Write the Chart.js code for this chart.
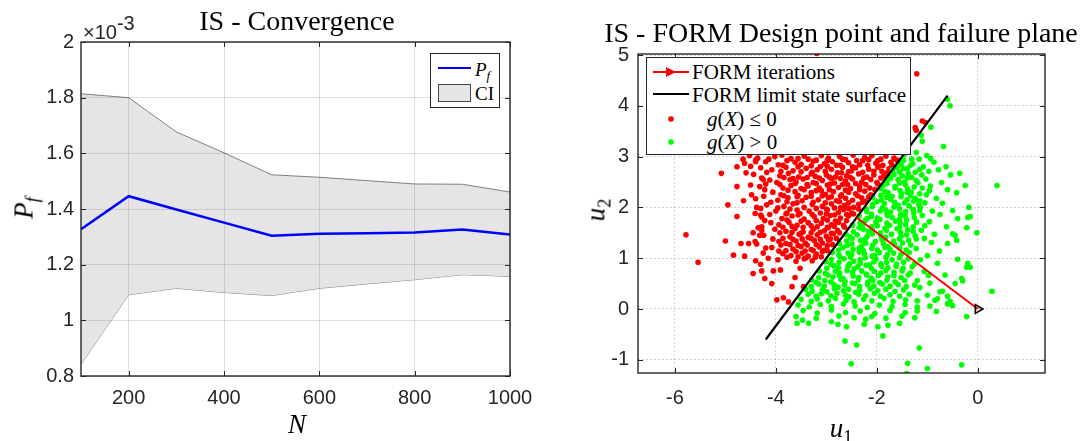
<!DOCTYPE html>
<html>
<head>
<meta charset="utf-8">
<title>IS - Convergence / FORM design point</title>
<script src="https://cdn.jsdelivr.net/npm/chart.js@4.4.1/dist/chart.umd.min.js"></script>
<style>
  body { margin: 0; width: 1088px; height: 441px; position: relative; overflow: hidden; background: #fff; }
  canvas { position: absolute; top: 0; }
  #convChart { left: 0; }
  #formChart { left: 560px; }
  .txt { position: absolute; white-space: nowrap; font-family: "Liberation Serif", "DejaVu Serif", serif; color: #000; transform: translate(-50%, -50%); line-height: 1; }
  .title { font-size: 28px; }
  .axt { font-size: 27px; }
  .rot { transform: translate(-50%, -50%) rotate(-90deg); }
  .sb { font-size: 68%; position: relative; top: 0.32em; }
  .exp { position: absolute; left: 83px; top: 13px; font-family: "Liberation Sans", Arial, sans-serif; font-size: 20px; color: #262626; line-height: 1; white-space: nowrap; }
  .exp sup { font-size: 20px; vertical-align: 0.45em; }
  .legend { position: absolute; background: #fff; border: 1.2px solid #262626; box-sizing: border-box; }
  .legend .item { position: absolute; white-space: nowrap; font-family: "Liberation Serif", "DejaVu Serif", serif; color: #000; transform: translateY(-50%); line-height: 1; }
  .legend .sample { position: absolute; }
</style>
</head>
<body>
<canvas id="convChart" width="560" height="441"></canvas>
<canvas id="formChart" width="528" height="441"></canvas>

<!-- titles and axis labels -->
<div class="txt title" style="left:297px;top:21px;">IS - Convergence</div>
<div class="exp">&times;10<sup>-3</sup></div>
<div class="txt axt rot" style="left:24px;top:208px;"><i>P</i><span class="sb"><i>f</i></span></div>
<div class="txt axt" style="left:297px;top:424px;"><i>N</i></div>

<div class="txt title" style="left:841px;top:33px;">IS - FORM Design point and failure plane</div>
<div class="txt axt" style="left:841px;top:428px;"><i>u</i><span class="sb">1</span></div>
<div class="txt axt rot" style="left:596px;top:210px;"><i>u</i><span class="sb">2</span></div>

<!-- legend, left chart -->
<div class="legend" style="left:430px;top:53px;width:70px;height:55px;">
  <div class="sample" style="left:7px;top:13px;width:33px;border-top:2.5px solid #0000ff;"></div>
  <div class="sample" style="left:7px;top:30px;width:33px;height:18px;background:#e6e6e6;border:1px solid #444;box-sizing:border-box;"></div>
  <div class="item" style="left:44px;top:15px;font-size:19px;"><i>P</i><span class="sb"><i>f</i></span></div>
  <div class="item" style="left:44px;top:39px;font-size:19px;">CI</div>
</div>

<!-- legend, right chart -->
<div class="legend" style="left:646px;top:57px;width:265px;height:98px;">
  <svg class="sample" style="left:6px;top:6px;" width="36" height="16">
    <line x1="0" y1="8" x2="36" y2="8" stroke="#ff0000" stroke-width="2"/>
    <polygon points="13,3 23,8 13,13" fill="#ff0000"/>
  </svg>
  <div class="sample" style="left:6px;top:35px;width:36px;border-top:2.5px solid #000;"></div>
  <svg class="sample" style="left:18px;top:55px;" width="12" height="12"><circle cx="6" cy="6" r="2.8" fill="#ff0000"/></svg>
  <svg class="sample" style="left:18px;top:78px;" width="12" height="12"><circle cx="6" cy="6" r="2.8" fill="#00ff00"/></svg>
  <div class="item" style="left:45px;top:14px;font-size:21px;">FORM iterations</div>
  <div class="item" style="left:45px;top:37px;font-size:21px;">FORM limit state surface</div>
  <div class="item" style="left:60px;top:61px;font-size:21px;"><i>g</i>(<i>X</i>) &le; 0</div>
  <div class="item" style="left:60px;top:84px;font-size:21px;"><i>g</i>(<i>X</i>) &gt; 0</div>
</div>

<script>
// ---- left chart: IS convergence, Pf and CI in units of 1e-3 ----
var nSamples = [100, 200, 300, 400, 500, 600, 700, 800, 900, 1000];
var pfValues = [1.327, 1.446, 1.398, 1.351, 1.304, 1.311, 1.313, 1.316, 1.326, 1.308];
var ciUpper  = [1.814, 1.800, 1.677, 1.602, 1.523, 1.514, 1.502, 1.490, 1.489, 1.461];
var ciLower  = [0.842, 1.092, 1.115, 1.100, 1.089, 1.115, 1.131, 1.146, 1.164, 1.158];
var nTicks  = [200, 400, 600, 800, 1000];
var pfTicks = [0.8, 1, 1.2, 1.4, 1.6, 1.8, 2];

// ---- right chart: FORM design point ----
var u1Ticks = [-6, -4, -2, 0];
var u2Ticks = [-1, 0, 1, 2, 3, 4, 5];
var formIterU1 = [0, -2.4];
var formIterU2 = [0, 1.8];
var limitU1 = [-4.2, -0.6];
var limitU2 = [-0.6, 4.2];

// samples with g(X) <= 0  [u1, u2]
var failPoints = [
  [-4.52,3.02],[-4.36,2.97],[-4.02,3.0],[-3.88,3.03],[-3.7,2.96],[-3.44,3.01],[-3.36,2.95],[-3.1,3.02],[-2.96,2.97],[-2.74,3.0],[-2.62,2.94],[-2.47,3.03],[-2.24,2.98],[-2.1,3.02],[-1.92,2.95],[-1.82,3.01],[-1.66,2.97],
  [-4.62,2.87],[-4.2,2.9],[-3.95,2.84],[-3.62,2.89],[-3.5,2.85],[-3.26,2.91],[-3.04,2.86],[-2.88,2.9],[-2.8,2.83],[-2.56,2.88],[-2.34,2.84],[-2.28,2.92],[-2.02,2.87],[-1.88,2.83],[-1.72,2.89],
  [-4.3,2.78],[-4.08,2.74],[-3.8,2.79],[-3.66,2.72],[-3.4,2.77],[-3.18,2.74],[-3.12,2.8],[-2.9,2.75],[-2.68,2.79],[-2.5,2.72],[-2.42,2.78],[-2.16,2.75],[-1.98,2.79],[-1.9,2.71],[-1.76,2.76],
  [-4.44,2.65],[-3.92,2.62],[-3.75,2.67],[-3.55,2.6],[-3.3,2.66],[-3.22,2.61],[-3.0,2.64],[-2.82,2.6],[-2.7,2.68],[-2.6,2.62],[-2.36,2.66],[-2.2,2.6],[-2.06,2.64],[-1.86,2.62],
  [-4.12,2.54],[-3.98,2.49],[-3.72,2.55],[-3.6,2.5],[-3.46,2.56],[-3.26,2.49],[-3.08,2.53],[-2.9,2.57],[-2.84,2.48],[-2.62,2.52],[-2.48,2.56],[-2.3,2.5],[-2.12,2.55],[-2.0,2.49],
  [-4.32,2.41],[-3.86,2.38],[-3.7,2.43],[-3.5,2.37],[-3.36,2.42],[-3.14,2.38],[-2.98,2.44],[-2.76,2.39],[-2.68,2.45],[-2.52,2.37],[-2.34,2.42],[-2.14,2.38],
  [-4.06,2.3],[-3.9,2.25],[-3.62,2.31],[-3.56,2.24],[-3.3,2.29],[-3.2,2.33],[-3.02,2.26],[-2.86,2.31],[-2.7,2.25],[-2.56,2.3],[-2.42,2.27],[-2.24,2.32],[-2.12,2.25],
  [-4.4,2.17],[-3.96,2.14],[-3.76,2.19],[-3.48,2.13],[-3.4,2.2],[-3.16,2.15],[-2.96,2.19],[-2.8,2.13],[-2.62,2.18],[-2.48,2.14],[-2.3,2.19],[-2.22,2.12],
  [-4.18,2.05],[-3.84,2.02],[-3.66,2.07],[-3.44,2.0],[-3.28,2.06],[-3.08,2.02],[-2.9,2.07],[-2.84,1.99],[-2.64,2.04],[-2.46,2.0],[-2.36,2.06],
  [-4.0,1.93],[-3.78,1.89],[-3.58,1.95],[-3.52,1.88],[-3.34,1.93],[-3.12,1.89],[-2.98,1.95],[-2.76,1.9],[-2.66,1.96],[-2.5,1.89],
  [-4.28,1.81],[-3.88,1.78],[-3.68,1.83],[-3.44,1.77],[-3.24,1.82],[-3.06,1.78],[-2.92,1.84],[-2.72,1.79],[-2.56,1.83],
  [-4.1,1.7],[-3.94,1.66],[-3.74,1.71],[-3.58,1.65],[-3.36,1.7],[-3.3,1.64],[-3.1,1.69],[-2.9,1.66],[-2.76,1.71],[-2.66,1.65],
  [-4.02,1.57],[-3.8,1.53],[-3.62,1.58],[-3.46,1.52],[-3.26,1.57],[-3.04,1.54],[-2.96,1.6],[-2.78,1.55],
  [-4.24,1.45],[-3.72,1.42],[-3.54,1.47],[-3.36,1.41],[-3.18,1.46],[-3.0,1.43],[-2.86,1.48],
  [-3.94,1.33],[-3.8,1.29],[-3.6,1.34],[-3.42,1.3],[-3.24,1.35],[-3.08,1.3],[-2.96,1.36],
  [-4.08,1.21],[-3.66,1.18],[-3.5,1.23],[-3.3,1.17],[-3.14,1.22],[-3.04,1.16],
  [-3.86,1.09],[-3.7,1.05],[-3.48,1.1],[-3.36,1.04],[-3.2,1.08],
  [-3.96,0.97],[-3.6,0.94],[-3.44,0.99],[-3.28,0.95],
  [-4.4,2.93],[-4.14,2.95],[-3.78,2.92],[-3.56,2.96],[-3.2,2.93],[-2.98,2.92],[-2.68,2.95],[-2.4,2.92],[-2.16,2.94],[-1.98,2.92],[-1.6,2.93],
  [-4.5,2.81],[-3.86,2.83],[-3.56,2.8],[-3.3,2.82],[-2.98,2.81],[-2.72,2.83],[-2.48,2.8],[-2.18,2.83],[-1.96,2.81],[-1.7,2.83],
  [-4.18,2.69],[-3.9,2.71],[-3.5,2.7],[-3.28,2.69],[-3.02,2.71],[-2.78,2.68],[-2.56,2.7],[-2.28,2.69],[-2.06,2.71],[-1.8,2.68],
  [-4.28,2.58],[-3.84,2.59],[-3.66,2.57],[-3.38,2.59],[-3.14,2.58],[-2.94,2.6],[-2.72,2.57],[-2.52,2.59],[-2.26,2.58],[-1.92,2.58],
  [-4.2,2.46],[-3.92,2.45],[-3.62,2.47],[-3.38,2.45],[-3.2,2.47],[-2.92,2.46],[-2.58,2.45],[-2.42,2.47],[-2.22,2.45],[-1.98,2.46],
  [-4.22,2.35],[-3.76,2.34],[-3.44,2.35],[-3.1,2.33],[-2.94,2.35],[-2.62,2.34],[-2.34,2.35],[-2.04,2.35],
  [-4.24,2.22],[-3.84,2.23],[-3.58,2.21],[-3.3,2.22],[-3.08,2.23],[-2.9,2.21],[-2.72,2.22],[-2.38,2.23],[-2.16,2.21],
  [-4.1,2.1],[-3.78,2.11],[-3.58,2.09],[-3.26,2.1],[-3.02,2.09],[-2.74,2.11],[-2.56,2.09],[-2.28,2.1],
  [-4.3,1.98],[-3.96,1.99],[-3.72,1.97],[-3.2,1.98],[-3.0,1.97],[-2.72,1.99],[-2.56,1.98],[-2.36,1.97],
  [-4.12,1.86],[-3.8,1.87],[-3.56,1.85],[-3.28,1.86],[-3.0,1.87],[-2.84,1.85],[-2.6,1.86],[-2.46,1.87],
  [-4.22,1.74],[-3.78,1.75],[-3.5,1.73],[-3.2,1.74],[-2.98,1.75],[-2.82,1.73],[-2.6,1.74],
  [-4.28,1.62],[-3.86,1.61],[-3.68,1.63],[-3.46,1.61],[-3.18,1.62],[-2.98,1.61],[-2.84,1.63],[-2.64,1.61],
  [-3.92,1.5],[-3.68,1.51],[-3.5,1.49],[-3.3,1.5],[-3.12,1.51],[-2.9,1.49],[-2.74,1.5],
  [-4.06,1.38],[-3.86,1.39],[-3.66,1.37],[-3.48,1.38],[-3.3,1.39],[-3.12,1.37],[-2.92,1.38],[-2.8,1.39],
  [-3.9,1.26],[-3.72,1.27],[-3.56,1.25],[-3.38,1.26],[-3.2,1.27],[-2.98,1.25],[-2.88,1.27],
  [-3.94,1.14],[-3.8,1.15],[-3.6,1.13],[-3.42,1.14],[-3.26,1.15],[-3.08,1.13],[-2.98,1.15],
  [-3.78,1.02],[-3.56,1.03],[-3.4,1.01],[-3.22,1.02],[-3.1,1.03],
  [-4.08,0.5],[-4.05,0.75],[-3.91,0.77],[-3.98,0.18],[-3.85,0.22],[-3.75,0.14],[-3.68,0.44],[-3.52,0.8],[-3.45,0.44],[-4.3,0.88],[-4.22,0.6],[-3.62,0.62],
  [-5.08,2.67],[-4.77,2.8],[-4.77,2.41],[-4.65,2.95],[-4.59,2.68],[-4.5,2.44],[-4.95,2.05],[-4.64,2.13],[-4.77,1.82],[-4.41,1.88],
  [-5.78,1.46],[-5.0,1.34],[-5.54,0.92],[-4.84,1.06],[-4.69,1.29],[-4.62,1.04],[-4.54,1.29],[-4.41,1.33],[-4.38,1.28],[-4.3,1.85],
  [-4.35,1.6],[-4.28,1.55],[-4.45,1.5],[-4.32,1.45],[-4.2,1.2],[-4.25,1.1],[-4.4,0.95],[-4.28,0.75],[-4.45,0.7],[-4.15,1.0],
  [-4.48,2.25],[-4.38,2.0],[-4.25,2.55],[-4.4,2.9],
  [-1.21,4.63],[-1.1,3.7],[-1.04,3.67],[-1.24,3.57],[-1.22,3.52],[-3.19,5.03]
];

// samples with g(X) > 0  [u1, u2]
var safePoints = [
  [-1.46,3.04],[-1.31,2.95],[-1.22,3.08],[-1.01,3.02],[-0.93,2.96],
  [-1.53,2.88],[-1.47,2.93],[-1.29,2.86],[-1.16,2.95],[-0.87,2.89],
  [-1.6,2.79],[-1.52,2.84],[-1.39,2.77],[-1.33,2.83],[-1.08,2.8],[-0.63,2.8],
  [-1.69,2.74],[-1.55,2.7],[-1.47,2.76],[-1.24,2.69],[-1.15,2.75],[-0.97,2.71],[-0.78,2.74],
  [-1.74,2.6],[-1.66,2.65],[-1.5,2.62],[-1.38,2.67],[-1.31,2.59],[-1.11,2.64],[-0.54,2.64],[-0.36,2.67],
  [-1.81,2.52],[-1.73,2.57],[-1.58,2.55],[-1.45,2.5],[-1.4,2.58],[-1.22,2.53],[-1.03,2.56],[-0.72,2.49],
  [-1.88,2.43],[-1.8,2.47],[-1.64,2.41],[-1.55,2.48],[-1.43,2.44],[-1.26,2.4],[-1.19,2.49],[-0.94,2.42],[-0.25,2.43],
  [-1.93,2.37],[-1.84,2.31],[-1.64,2.38],[-1.54,2.33],[-1.39,2.36],[-1.32,2.3],[-1.1,2.38],[-0.96,2.33],[-0.6,2.35],
  [-1.92,2.24],[-1.78,2.29],[-1.7,2.22],[-1.51,2.27],[-1.4,2.3],[-1.33,2.23],[-1.15,2.27],[-1.02,2.25],[-0.42,2.29],
  [-2.08,2.19],[-1.91,2.14],[-1.81,2.2],[-1.73,2.16],[-1.52,2.21],[-1.4,2.15],[-1.24,2.18],[-1.15,2.13],[-0.82,2.18],
  [-2.08,2.06],[-2.0,2.11],[-1.85,2.07],[-1.65,2.1],[-1.58,2.04],[-1.45,2.09],[-1.27,2.12],[-1.17,2.05],[-1.05,2.09],[-0.7,2.08],
  [-2.21,1.97],[-2.09,2.02],[-1.89,1.99],[-1.82,1.95],[-1.66,2.01],[-1.55,1.97],[-1.36,2.03],[-1.28,1.96],[-1.14,2.0],[-0.18,2.0],
  [-2.2,1.92],[-2.11,1.87],[-1.93,1.93],[-1.8,1.88],[-1.73,1.91],[-1.53,1.86],[-1.43,1.92],[-1.27,1.89],[-1.15,1.94],[-0.9,1.93],[-0.5,1.94],
  [-2.35,1.83],[-2.19,1.78],[-2.11,1.82],[-1.99,1.79],[-1.79,1.84],[-1.7,1.8],[-1.55,1.77],[-1.44,1.83],[-1.26,1.8],[-1.1,1.84],[-0.75,1.86],
  [-2.33,1.7],[-2.23,1.74],[-2.02,1.71],[-1.94,1.76],[-1.8,1.69],[-1.63,1.73],[-1.54,1.7],[-1.41,1.75],[-1.21,1.71],[-0.96,1.72],[-0.4,1.78],[-0.2,1.8],
  [-2.48,1.65],[-2.35,1.6],[-2.28,1.66],[-2.1,1.62],[-1.99,1.64],[-1.84,1.59],[-1.75,1.65],[-1.55,1.61],[-1.43,1.66],[-1.28,1.62],[-1.05,1.64],[-0.62,1.62],
  [-2.46,1.52],[-2.27,1.57],[-2.17,1.53],[-2.09,1.56],[-1.93,1.5],[-1.81,1.55],[-1.6,1.58],[-1.53,1.51],[-1.39,1.56],[-1.28,1.53],[-1.12,1.55],[-0.02,1.5],
  [-2.61,1.47],[-2.53,1.42],[-2.39,1.46],[-2.19,1.43],[-2.09,1.48],[-1.92,1.44],[-1.83,1.41],[-1.71,1.47],[-1.52,1.43],[-1.41,1.46],[-1.24,1.44],[-0.86,1.47],[-0.45,1.45],
  [-2.6,1.34],[-2.49,1.39],[-2.32,1.35],[-2.23,1.38],[-2.03,1.33],[-1.9,1.37],[-1.83,1.4],[-1.67,1.34],[-1.55,1.38],[-1.37,1.35],[-1.22,1.38],[-1.06,1.39],
  [-2.74,1.29],[-2.59,1.25],[-2.49,1.28],[-2.3,1.24],[-2.22,1.3],[-2.08,1.26],[-1.87,1.29],[-1.78,1.23],[-1.65,1.27],[-1.49,1.3],[-1.33,1.26],[-0.92,1.31],[-0.6,1.29],
  [-2.76,1.16],[-2.67,1.21],[-2.47,1.17],[-2.35,1.2],[-2.27,1.15],[-2.1,1.19],[-1.99,1.16],[-1.84,1.21],[-1.74,1.17],[-1.55,1.2],[-1.42,1.16],[-1.22,1.19],[-0.76,1.14],
  [-2.88,1.11],[-2.75,1.06],[-2.57,1.1],[-2.5,1.07],[-2.35,1.12],[-2.24,1.08],[-2.04,1.05],[-1.95,1.11],[-1.79,1.07],[-1.67,1.1],[-1.52,1.08],[-1.36,1.11],[-1.0,1.05],
  [-2.9,0.98],[-2.73,1.03],[-2.65,0.99],[-2.52,1.02],[-2.33,0.97],[-2.23,1.01],[-2.09,1.04],[-2.02,0.98],[-1.82,1.02],[-1.7,0.97],[-1.55,1.01],[-1.38,0.99],[-1.14,0.97],[-0.4,0.98],
  [-3.01,0.93],[-2.91,0.88],[-2.75,0.92],[-2.54,0.89],[-2.46,0.94],[-2.33,0.9],[-2.15,0.87],[-2.06,0.93],[-1.92,0.89],[-1.81,0.92],[-1.61,0.88],[-1.47,0.92],[-1.25,0.89],[-0.8,0.9],
  [-2.99,0.8],[-2.85,0.85],[-2.76,0.81],[-2.57,0.84],[-2.45,0.79],[-2.38,0.83],[-2.21,0.86],[-2.11,0.8],[-1.91,0.84],[-1.78,0.81],[-1.62,0.84],[-1.48,0.8],[-1.3,0.83],[-0.22,0.82],
  [-3.14,0.75],[-3.02,0.7],[-2.82,0.74],[-2.74,0.71],[-2.59,0.76],[-2.48,0.72],[-2.3,0.75],[-2.21,0.69],[-2.05,0.74],[-1.92,0.71],[-1.82,0.76],[-1.66,0.72],[-1.5,0.75],[-1.34,0.71],[-1.06,0.74],
  [-3.15,0.62],[-2.97,0.67],[-2.87,0.63],[-2.74,0.66],[-2.67,0.6],[-2.47,0.65],[-2.36,0.62],[-2.2,0.67],[-2.11,0.61],[-1.97,0.66],[-1.78,0.63],[-1.66,0.66],[-1.52,0.62],[-1.38,0.67],[-0.98,0.66],[-0.65,0.67],
  [-3.29,0.57],[-3.2,0.52],[-3.03,0.56],[-2.91,0.53],[-2.71,0.58],[-2.63,0.54],[-2.48,0.51],[-2.37,0.57],[-2.18,0.53],[-2.08,0.56],[-1.94,0.52],[-1.8,0.57],[-1.64,0.53],[-1.45,0.56],[-1.2,0.56],
  [-3.3,0.44],[-3.15,0.49],[-3.04,0.45],[-2.85,0.48],[-2.77,0.43],[-2.64,0.47],[-2.44,0.5],[-2.34,0.44],[-2.18,0.48],[-2.06,0.45],[-1.89,0.49],[-1.74,0.45],[-1.58,0.48],[-1.42,0.44],[-1.25,0.47],[-0.95,0.51],
  [-3.41,0.39],[-3.28,0.35],[-3.08,0.38],[-2.99,0.34],[-2.84,0.4],[-2.66,0.36],[-2.56,0.39],[-2.42,0.33],[-2.34,0.37],[-2.13,0.4],[-1.98,0.36],[-1.82,0.39],[-1.64,0.35],[-1.47,0.38],[-1.15,0.42],[-0.75,0.34],
  [-3.36,0.29],[-3.2,0.25],[-3.1,0.3],[-2.91,0.26],[-2.79,0.31],[-2.62,0.27],[-2.55,0.24],[-2.36,0.29],[-2.22,0.26],[-2.05,0.31],[-1.93,0.25],[-1.74,0.28],[-1.55,0.25],[-1.36,0.29],[-1.0,0.27],[-0.6,0.25],
  [-3.5,0.19],[-3.3,0.15],[-3.18,0.2],[-2.96,0.16],[-2.82,0.21],[-2.61,0.17],[-2.45,0.14],[-2.26,0.19],[-2.1,0.16],[-1.86,0.21],[-1.68,0.15],[-1.43,0.18],[-1.2,0.16],[-0.85,0.17],[-0.55,0.15],
  [-3.56,0.08],[-3.34,0.04],[-3.12,0.09],[-2.9,0.05],[-2.66,0.1],[-2.43,0.06],[-2.19,0.03],[-1.95,0.08],[-1.7,0.05],[-1.44,0.09],[-1.2,0.04],[-0.95,0.06],[-0.5,0.07],
  [-3.46,-0.03],[-3.18,-0.08],[-2.9,-0.02],[-2.62,-0.07],[-2.33,-0.04],[-2.04,-0.09],[-1.74,-0.03],[-1.44,-0.07],[-1.2,-0.04],[-0.82,-0.05],
  [-3.6,-0.15],[-3.2,-0.18],[-2.75,-0.14],[-2.45,-0.17],[-2.1,-0.15],[-1.82,-0.18],[-1.5,-0.14],[-1.25,-0.17],[-0.22,-0.15],
  [-3.35,-0.28],[-3.47,-0.22],[-3.58,-0.28],[-2.63,-0.63],[-2.4,-0.71],[-1.88,-0.53],[-2.51,-1.08],[-1.39,-1.07],[-1.41,-1.27],[-1.16,-0.77],
  [-1.0,-1.17],[-0.32,-1.1],[-2.22,-0.2],[-2.25,-0.3],[-2.6,-0.35],[-2.77,-0.3],[-1.98,-0.35],[-1.78,-0.32],[-1.55,-0.28],[-2.9,-0.25],
  [-0.6,4.13],[-0.55,4.0],[-0.93,3.58],[-0.68,3.2],[-1.1,3.3],[-1.12,3.42],[0.38,2.43],[-0.15,1.82],[-0.22,1.6],
  [-0.5,1.48],[-0.42,1.35],[-0.2,0.9],[-0.15,0.82],[0.28,0.35],[-0.32,0.6],[-0.45,0.5],[-0.6,0.1],[-0.8,0.2],
  [-0.7,0.35],[-0.3,0.55]
];

function toXY(xs, ys) {
    var out = [];
    for (var i = 0; i < xs.length; i++) out.push({x: xs[i], y: ys[i]});
    return out;
}
function pairsToXY(pairs) {
    return pairs.map(function(p) { return {x: p[0], y: p[1]}; });
}
function fixedTicks(values) {
    return function(scale) { scale.ticks = values.map(function(v) { return {value: v}; }); };
}
function plainLabel(v) { return String(v); }

var tickFont = {family: '"Liberation Sans", Arial, sans-serif', size: 20};
var tickColor = '#262626';

// box around the axes with inward ticks on all four sides (matlab style)
var boxTicks = {
    id: 'boxTicks',
    afterDraw: function(chart) {
        var a = chart.chartArea, ctx = chart.ctx;
        var xs = chart.scales.x, ys = chart.scales.y;
        ctx.save();
        ctx.strokeStyle = '#262626';
        ctx.lineWidth = 1;
        ctx.beginPath();
        xs.ticks.forEach(function(t) {
            var px = Math.round(xs.getPixelForValue(t.value)) + 0.5;
            ctx.moveTo(px, a.bottom); ctx.lineTo(px, a.bottom - 5);
            ctx.moveTo(px, a.top); ctx.lineTo(px, a.top + 5);
        });
        ys.ticks.forEach(function(t) {
            var py = Math.round(ys.getPixelForValue(t.value)) + 0.5;
            ctx.moveTo(a.left, py); ctx.lineTo(a.left + 5, py);
            ctx.moveTo(a.right, py); ctx.lineTo(a.right - 5, py);
        });
        ctx.stroke();
        ctx.lineWidth = 1.4;
        ctx.strokeRect(a.left, a.top, a.right - a.left, a.bottom - a.top);
        ctx.restore();
    }
};

// left chart
new Chart(document.getElementById('convChart'), {
    type: 'line',
    data: {
        datasets: [{
            label: 'Pf',
            data: toXY(nSamples, pfValues),
            borderColor: '#0000ff',
            borderWidth: 2.5,
            pointRadius: 0,
            fill: false,
            order: 0
        }, {
            label: 'CI upper',
            data: toXY(nSamples, ciUpper),
            borderColor: '#333333',
            borderWidth: 0.6,
            backgroundColor: '#e5e5e5',
            pointRadius: 0,
            fill: '+1',
            order: 1
        }, {
            label: 'CI lower',
            data: toXY(nSamples, ciLower),
            borderColor: '#333333',
            borderWidth: 0.6,
            pointRadius: 0,
            fill: false,
            order: 2
        }]
    },
    options: {
        responsive: false,
        animation: false,
        events: [],
        layout: {padding: {top: 42, right: 50, left: 0, bottom: 0}},
        plugins: {legend: {display: false}, title: {display: false}, tooltip: {enabled: false}},
        scales: {
            x: {
                type: 'linear', min: 100, max: 1000,
                afterBuildTicks: fixedTicks(nTicks),
                afterFit: function(s) { s.height = 65; },
                grid: {color: 'rgba(38,38,38,0.15)', drawTicks: false, z: 1},
                border: {display: false},
                ticks: {font: tickFont, color: tickColor, padding: 10, maxRotation: 0, autoSkip: false, callback: plainLabel}
            },
            y: {
                type: 'linear', min: 0.8, max: 2,
                afterBuildTicks: fixedTicks(pfTicks),
                afterFit: function(s) { s.width = 81; },
                grid: {color: 'rgba(38,38,38,0.15)', drawTicks: false, z: 1},
                border: {display: false},
                ticks: {font: tickFont, color: tickColor, padding: 7, autoSkip: false, callback: plainLabel}
            }
        }
    },
    plugins: [boxTicks]
});

// right chart
new Chart(document.getElementById('formChart'), {
    type: 'scatter',
    data: {
        datasets: [{
            label: 'FORM iterations',
            data: toXY(formIterU1, formIterU2),
            showLine: true,
            borderColor: '#ff0000',
            borderWidth: 2,
            pointStyle: 'triangle',
            rotation: 90,
            pointRadius: [5, 0],
            pointBackgroundColor: 'rgba(0,0,0,0)',
            pointBorderColor: '#000000',
            pointBorderWidth: 1.6,
            order: 0
        }, {
            label: 'FORM limit state surface',
            data: toXY(limitU1, limitU2),
            showLine: true,
            borderColor: '#000000',
            borderWidth: 2.2,
            pointRadius: 0,
            order: 1
        }, {
            label: 'g(X) <= 0',
            data: pairsToXY(failPoints),
            backgroundColor: '#ff0000',
            pointRadius: 2.8,
            pointBorderWidth: 0,
            order: 3
        }, {
            label: 'g(X) > 0',
            data: pairsToXY(safePoints),
            backgroundColor: '#00ff00',
            pointRadius: 2.8,
            pointBorderWidth: 0,
            order: 2
        }]
    },
    options: {
        responsive: false,
        animation: false,
        events: [],
        layout: {padding: {top: 54, right: 43, left: 0, bottom: 0}},
        plugins: {legend: {display: false}, title: {display: false}, tooltip: {enabled: false}},
        scales: {
            x: {
                type: 'linear', min: -6.73, max: 1.33,
                afterBuildTicks: fixedTicks(u1Ticks),
                afterFit: function(s) { s.height = 68; },
                grid: {color: 'rgba(38,38,38,0.2)', drawTicks: false, z: 1},
                border: {display: false, dash: [2, 2]},
                ticks: {font: tickFont, color: tickColor, padding: 13, maxRotation: 0, autoSkip: false, callback: plainLabel}
            },
            y: {
                type: 'linear', min: -1.26, max: 5.02,
                afterBuildTicks: fixedTicks(u2Ticks),
                afterFit: function(s) { s.width = 78; },
                grid: {color: 'rgba(38,38,38,0.2)', drawTicks: false, z: 1},
                border: {display: false, dash: [2, 2]},
                ticks: {font: tickFont, color: tickColor, padding: 9, autoSkip: false, callback: plainLabel}
            }
        }
    },
    plugins: [boxTicks]
});
</script>
</body>
</html>
